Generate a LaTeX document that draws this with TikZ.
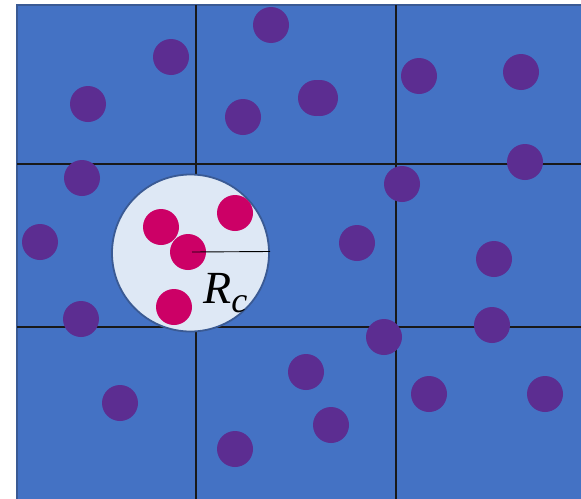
\documentclass[tikz,border=0pt]{standalone}
\usepackage{fontspec}
\newfontfamily\rcfont{Liberation Serif}
\begin{document}
\begin{tikzpicture}[x=1pt,y=-1pt,
  particle/.style={circle,fill=partpurple,minimum size=36pt,inner sep=0pt,draw=none},
  inside/.style={circle,fill=partpink,minimum size=36pt,inner sep=0pt,draw=none},
  gridline/.style={draw=black!90,line width=1.3pt}]
\definecolor{boxblue}{HTML}{4472C4}
\definecolor{boxedge}{HTML}{3A5A94}
\definecolor{partpurple}{HTML}{5C2D91}
\definecolor{partpink}{HTML}{CC0066}
\definecolor{cutfill}{HTML}{DEE8F5}
\useasboundingbox (0,0) rectangle (581,498);
\clip (0,0) rectangle (581,498);
% domain
\path[fill=boxblue,draw=boxedge,line width=1.8pt] (17,5) rectangle (590,510);
% grid
\draw[gridline] (196,5) -- (196,510);
\draw[gridline] (396,5) -- (396,510);
\draw[gridline] (17,164) -- (590,164);
\draw[gridline] (17,327) -- (590,327);
% cutoff sphere
\node[circle,fill=cutfill,draw=boxedge,line width=1.8pt,minimum size=157pt,inner sep=0pt] (cut) at (190.5,253) {};
% particles outside
\node[particle] (p1) at (171,57) {};
\node[particle] (p2) at (88,104) {};
\node[particle] (p3) at (271,25) {};
\node[particle] (p4) at (243,117) {};
\node[particle] (p5a) at (316,98) {};
\node[particle] (p5b) at (320,98) {};
\node[particle] (p6) at (419,76) {};
\node[particle] (p7) at (521,72) {};
\node[particle] (p8) at (82,178) {};
\node[particle] (p9) at (402,184) {};
\node[particle] (p10) at (525,162) {};
\node[particle] (p11) at (40,242) {};
\node[particle] (p12) at (357,243) {};
\node[particle] (p13) at (494,259) {};
\node[particle] (p14) at (81,319) {};
\node[particle] (p15) at (384,337) {};
\node[particle] (p16) at (492,325) {};
\node[particle] (p17) at (306,372) {};
\node[particle] (p18) at (120,403) {};
\node[particle] (p19) at (429,394) {};
\node[particle] (p20) at (545,394) {};
\node[particle] (p21) at (331,425) {};
\node[particle] (p22) at (235,449) {};
% particles inside
\node[inside] (q1) at (161,227) {};
\node[inside] (q2) at (235,213) {};
\node[inside] (q3) at (188,252) {};
\node[inside] (q4) at (174,307) {};
% radius
\coordinate (rc) at (192,252);
\coordinate (rend) at (270,251.5);
\draw[black,line width=0.9pt] (rc) -- (rend);
\node[anchor=base west,inner sep=0pt,font=\rcfont\itshape] (lbl) at (203,303)
  {\fontsize{46}{46}\selectfont R\raisebox{-9pt}{\fontsize{36}{36}\selectfont c}};
\end{tikzpicture}
\end{document}
